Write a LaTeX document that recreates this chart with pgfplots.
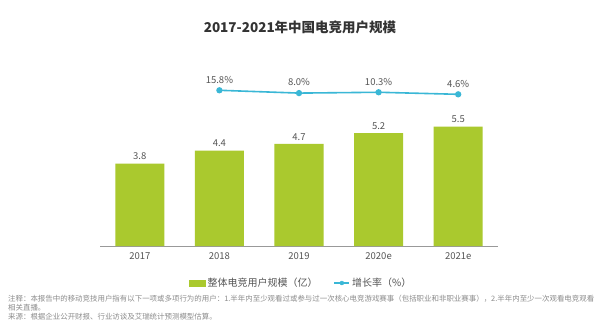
\documentclass[border=0pt]{standalone}
\usepackage{pgfplots}
\pgfplotsset{compat=1.18}
\usepackage{fontspec}
\setmainfont{Noto Sans CJK SC}
\definecolor{bargreen}{RGB}{170,201,46}
\definecolor{linecyan}{RGB}{58,183,214}
\definecolor{txtgray}{RGB}{85,85,85}
\definecolor{notegray}{RGB}{140,140,140}
\begin{document}
\begin{tikzpicture}
\path[use as bounding box, fill=white] (0pt,0pt) rectangle (600pt,322pt);
\node[font=\bfseries\fontsize{13.5}{15}\selectfont, text=black!80] at (300pt,295pt) {2017-2021年中国电竞用户规模};
\begin{axis}[
  at={(100pt,76pt)}, anchor=south west,
  scale only axis, width=398pt, height=186pt,
  xmin=-0.5, xmax=4.5, ymin=0, ymax=8.57,
  axis x line*=bottom, axis y line=none,
  x axis line style={draw=black!40, line width=0.8pt, -},
  xtick={0,1,2,3,4}, xticklabels={2017,2018,2019,2020e,2021e},
  major tick length=0pt,
  xticklabel style={font=\fontsize{9.5}{11}\selectfont, text=txtgray, yshift=-3pt},
  /pgf/number format/assume math mode=true,
  ybar, bar width=49pt,
  nodes near coords,
  nodes near coords style={font=\fontsize{9.5}{11}\selectfont, text=txtgray, /pgf/number format/.cd, fixed, fixed zerofill, precision=1, assume math mode=true},
  legend columns=2,
  legend style={draw=none, fill=none, at={(0.505,-0.199)}, anchor=center, font=\fontsize{10}{12}\selectfont, text=txtgray, /tikz/every even column/.append style={column sep=14pt}},
]
\addplot[fill=bargreen, draw=none, area legend, legend image code/.code={\fill[bargreen] (0pt,-3.5pt) rectangle (17pt,3.5pt);}] coordinates {(0,3.8) (1,4.4) (2,4.7) (3,5.2) (4,5.5)};
\addlegendentry{整体电竞用户规模（亿）}
\addlegendimage{legend image code/.code={\draw[linecyan, line width=1.5pt] (0pt,0pt) -- (15pt,0pt); \fill[linecyan] (7.5pt,0pt) circle (2pt);}}
\addlegendentry{增长率（\%）}
\end{axis}
\begin{axis}[
  at={(100pt,76pt)}, anchor=south west,
  scale only axis, width=398pt, height=186pt,
  xmin=-0.5, xmax=4.5, ymin=-417, ymax=100,
  hide axis,
  /pgf/number format/assume math mode=true,
  nodes near coords={\pgfmathprintnumber[fixed,fixed zerofill,precision=1,assume math mode=true]{\pgfplotspointmeta}\%},
  nodes near coords style={font=\fontsize{9.5}{11}\selectfont, text=txtgray, yshift=3pt},
]
\addplot[linecyan, line width=1.6pt, mark=*, mark size=2.3pt, mark options={fill=linecyan, draw=linecyan}] coordinates {(1,15.8) (2,8.0) (3,10.3) (4,4.6)};
\end{axis}
\begin{scope}[font=\fontsize{7.45}{9}\selectfont, text=notegray]
\node[anchor=west, inner sep=0pt] at (8pt,23pt) {注释：本报告中的移动竞技用户指有以下一项或多项行为的用户：1.半年内至少观看过或参与过一次核心电竞游戏赛事（包括职业和非职业赛事），2.半年内至少一次观看电竞观看};
\node[anchor=west, inner sep=0pt] at (8pt,14pt) {相关直播。};
\node[anchor=west, inner sep=0pt] at (8pt,5pt) {来源：根据企业公开财报、行业访谈及艾瑞统计预测模型估算。};
\end{scope}
\end{tikzpicture}
\end{document}
